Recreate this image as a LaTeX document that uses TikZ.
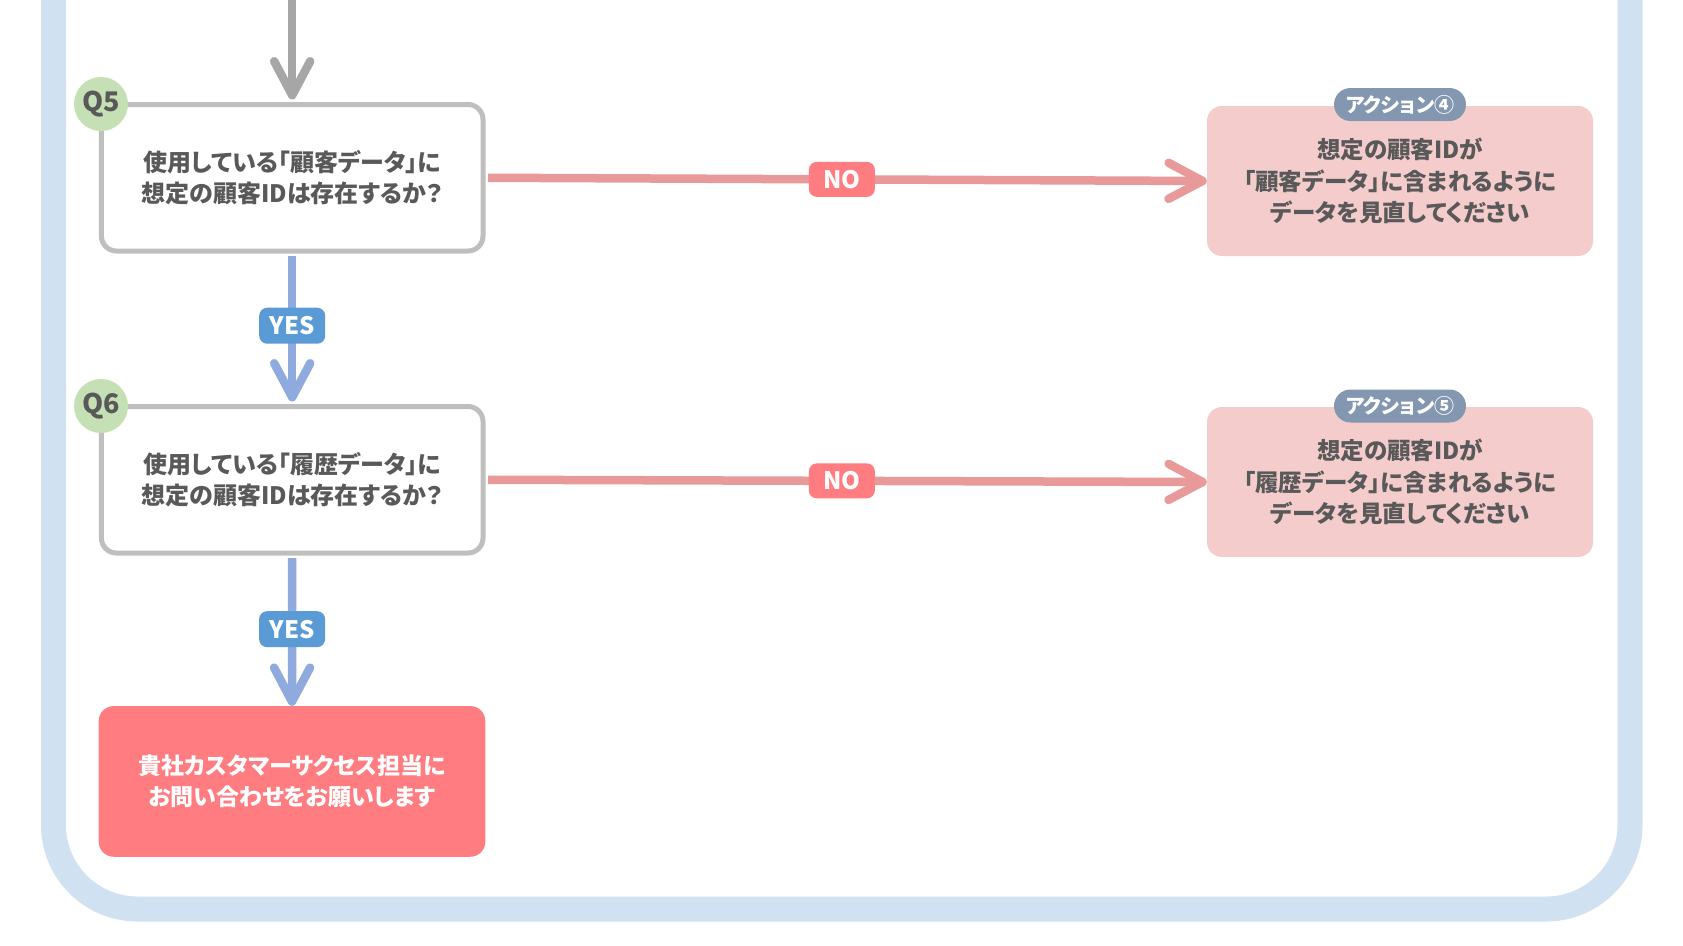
\documentclass[tikz,border=0pt]{standalone}
\usepackage{fontspec}
\setmainfont{Noto Sans CJK JP}[RawFeature=+palt]
\usetikzlibrary{arrows.meta}
\definecolor{framecol}{HTML}{D0E1F1}
\definecolor{qgray}{HTML}{BFBFBF}
\definecolor{arrgray}{HTML}{A6A6A6}
\definecolor{qgreen}{HTML}{C5E0B4}
\definecolor{txtgray}{HTML}{595959}
\definecolor{nopink}{HTML}{E89A9A}
\definecolor{nolabel}{HTML}{FF7C80}
\definecolor{actfill}{HTML}{F4CCCC}
\definecolor{badgecol}{HTML}{8497B0}
\definecolor{yesfill}{HTML}{5B9BD5}
\definecolor{yesline}{HTML}{8FAADC}
\definecolor{endfill}{HTML}{FF7C80}
\newcommand\myqfont{\fontsize{24pt}{31.5pt}\selectfont\bfseries}
\newcommand\myactfont{\fontsize{23.5pt}{31.5pt}\selectfont\bfseries}
\newcommand\myendfont{\fontsize{23pt}{31pt}\selectfont\bfseries}
\newcommand\mycircfont{\fontsize{27pt}{30pt}\selectfont\bfseries}
\newcommand\mybadgefont{\fontsize{20pt}{22pt}\selectfont\bfseries}
\newcommand\mylabfont{\fontsize{24pt}{26pt}\selectfont\bfseries}
\tikzset{
 qbox/.style={draw=qgray, line width=5pt, fill=white, rounded corners=15pt, minimum width=381.6pt, minimum height=146.5pt, inner sep=0pt, align=center, text=txtgray, font=\myqfont},
 qcirc/.style={circle, fill=qgreen, minimum size=54pt, inner sep=0pt, text=txtgray, font=\mycircfont},
 actbox/.style={fill=actfill, rounded corners=15pt, minimum width=386pt, minimum height=150pt, inner sep=0pt, align=center, text=txtgray, font=\myactfont},
 badgebox/.style={fill=badgecol, rounded corners=16.5pt, minimum width=132pt, minimum height=33pt, inner sep=0pt, text=white, font=\mybadgefont},
 endbox/.style={fill=endfill, rounded corners=15pt, minimum width=386.6pt, minimum height=150.7pt, inner sep=0pt, align=center, text=white, font=\myendfont},
 nolab/.style={fill=nolabel, rounded corners=8pt, minimum width=66pt, minimum height=35pt, inner sep=0pt, text=white, font=\mylabfont},
 yeslab/.style={fill=yesfill, rounded corners=8pt, minimum width=66pt, minimum height=36pt, inner sep=0pt, text=white, font=\mylabfont},
 conn/.style={line width=8.5pt, -{Straight Barb[length=34pt,width=36pt,round]}},
 framestyle/.style={draw=framecol, line width=25pt, rounded corners=84pt},
}
\begin{document}
\begin{tikzpicture}[x=1pt,y=-1pt]
\useasboundingbox (0,0) rectangle (1683,945);
\fill[white] (0,0) rectangle (1683,945);
% outer frame
\draw[framestyle] (53.5,-120) -- (53.5,909) -- (1630,909) -- (1630,-120);
\clip (0,0) rectangle (1683,945);
% question boxes
\node[qbox] (q5) at (292.2,177.75) {使用している「顧客データ」に\\想定の顧客IDは存在するか？};
\node[qbox] (q6) at (292.2,479.75) {使用している「履歴データ」に\\想定の顧客IDは存在するか？};
\node[qcirc] (c5) at (101,104) {Q5};
\node[qcirc] (c6) at (101,406) {Q6};
% action boxes
\node[actbox] (a4) at (1400,181) {想定の顧客IDが\\「顧客データ」に含まれるように\\データを見直してください};
\node[actbox] (a5) at (1400,482) {想定の顧客IDが\\「履歴データ」に含まれるように\\データを見直してください};
\node[badgebox] (b4) at (1400,104.5) {アクション④};
\node[badgebox] (b5) at (1400,406) {アクション⑤};
% end box
\node[endbox] (fin) at (292,781.4) {貴社カスタマーサクセス担当に\\お問い合わせをお願いします};
% connectors
\coordinate (topin) at (292.2,-30);
\draw[conn, arrgray, shorten >=2.5pt] (topin) -- (q5.north);
\draw[conn, nopink, shorten <=2.5pt] (q5.east) -- node[nolab, pos=0.494]{NO} (a4.west);
\draw[conn, nopink, shorten <=2.5pt] (q6.east) -- node[nolab, pos=0.494]{NO} (a5.west);
\draw[conn, yesline, shorten <=2.5pt, shorten >=2.5pt] (q5.south) -- node[yeslab, pos=0.48]{YES} (q6.north);
\draw[conn, yesline, shorten <=2.5pt] (q6.south) -- node[yeslab, pos=0.49]{YES} (fin.north);
\end{tikzpicture}
\end{document}
